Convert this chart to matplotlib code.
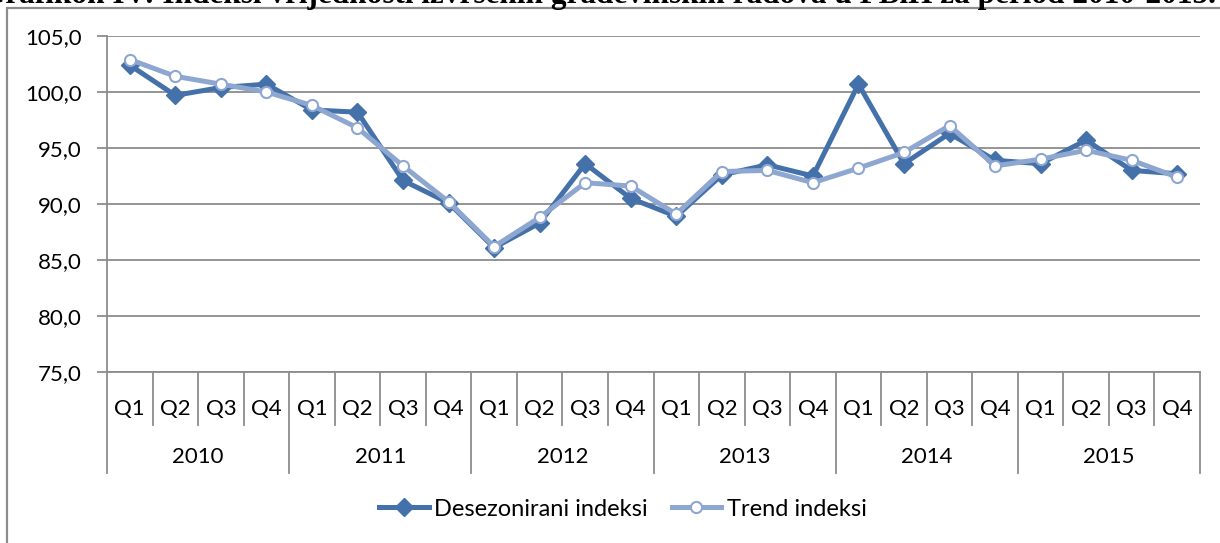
import matplotlib
matplotlib.use("Agg")
import matplotlib.pyplot as plt
from matplotlib.lines import Line2D
from matplotlib.patches import Rectangle
from matplotlib.transforms import blended_transform_factory

years = ["2010", "2011", "2012", "2013", "2014", "2015"]
quarters = ["Q1", "Q2", "Q3", "Q4"]
desezonirani = [102.4, 99.7, 100.4, 100.7, 98.4, 98.2, 92.1, 90.1,
                86.1, 88.3, 93.6, 90.5, 88.9, 92.6, 93.5, 92.5,
                100.7, 93.6, 96.3, 93.9, 93.6, 95.7, 93.0, 92.7]
trend = [102.9, 101.4, 100.7, 100.0, 98.8, 96.8, 93.4, 90.2,
         86.2, 88.8, 91.9, 91.6, 89.1, 92.9, 93.0, 91.9,
         93.2, 94.6, 97.0, 93.4, 94.0, 94.8, 93.9, 92.4]
yticks = [75, 80, 85, 90, 95, 100, 105]
title = "Grafikon IV: Indeksi vrijednosti izvršenih građevinskih radova u FBiH za period 2010-2015."

W, H = 1220, 543
FS = 16
plt.rcParams['font.family'] = ['Lato', 'DejaVu Sans']
fig = plt.figure(figsize=(W / 100, H / 100), dpi=100)

dark = "#4471AA"
light = "#8EA7D1"
gridc = "#8C8C8C"

ax = fig.add_axes([107 / W, 1 - 372 / H, (1200 - 107) / W, (372 - 36) / H])
n = len(desezonirani)
x = list(range(n))
ax.plot(x, desezonirani, color=dark, lw=3.6, marker="D", ms=9.5,
        mfc=dark, mec=dark, zorder=3, solid_joinstyle="miter")
ax.plot(x, trend, color=light, lw=3.6, marker="o", ms=8,
        mfc="white", mec=light, mew=1.5, zorder=4)

ax.set_xlim(-0.5, n - 0.5)
ax.set_ylim(75, 105)
ax.set_yticks(yticks)
ax.set_yticklabels([f"{v:.1f}".replace(".", ",") for v in yticks], fontsize=FS)
ax.set_xticks([])
ax.grid(axis="y", color=gridc, lw=1.3)
ax.set_axisbelow(True)
for s in ["top", "right"]:
    ax.spines[s].set_visible(False)
for s in ["left", "bottom"]:
    ax.spines[s].set_color(gridc)
    ax.spines[s].set_linewidth(1.3)
ax.tick_params(axis="y", length=7, color=gridc, width=1.3, pad=11)

# multi-level category axis
tr = blended_transform_factory(ax.transData, fig.transFigure)
yq_top = 1 - 372 / H
yq_bot = 1 - 425 / H
yy_bot = 1 - 473 / H
for i in range(n + 1):
    xp = i - 0.5
    bot = yy_bot if i % 4 == 0 else yq_bot
    fig.add_artist(Line2D([xp, xp], [yq_top, bot], transform=tr, color=gridc, lw=1.3))
for i in range(n):
    fig.text(i, 1 - 409 / H, quarters[i % 4], transform=tr, ha="center", va="center", fontsize=FS)
for j, yr in enumerate(years):
    fig.text(j * 4 + 1.5, 1 - 457 / H, yr, transform=tr, ha="center", va="center", fontsize=FS)

# legend
handles = [Line2D([], [], color=dark, lw=3.6, marker="D", ms=9.5, mfc=dark, mec=dark),
           Line2D([], [], color=light, lw=3.6, marker="o", ms=8, mfc="white", mec=light, mew=1.5)]
fig.legend(handles, ["Desezonirani indeksi", "Trend indeksi"], loc="center",
           bbox_to_anchor=(623 / W, 1 - 509 / H), ncol=2, frameon=False, fontsize=17,
           handlelength=2.1, handletextpad=0.25, columnspacing=1.0)

# outer border and (partly cut-off) title
fig.add_artist(Rectangle((7 / W, -0.1), 1.2, 1 - 8 / H + 0.1, transform=fig.transFigure,
                         fill=False, ec=gridc, lw=1.6))
fig.text(1216 / W, 1 - 3 / H, title, ha="right", va="baseline", fontsize=22.5,
         fontweight="bold", family=["Liberation Serif", "DejaVu Serif"])

fig.savefig("out.png", dpi=100)
